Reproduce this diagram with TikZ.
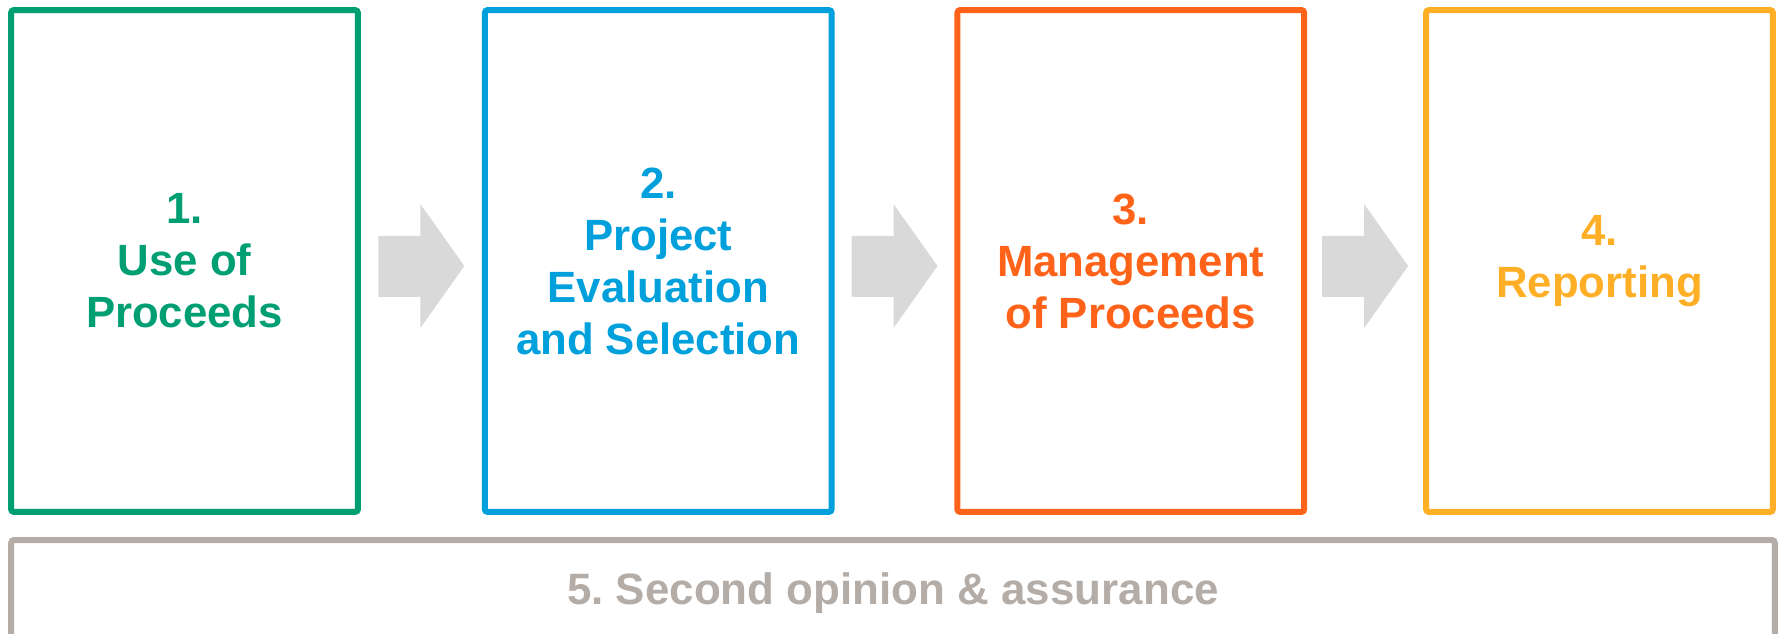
\documentclass[tikz,border=0pt]{standalone}
\usepackage{fontspec}
\setmainfont{Liberation Sans}
\usetikzlibrary{calc}

\definecolor{usegreen}{RGB}{0,158,115}
\definecolor{evalblue}{RGB}{0,160,220}
\definecolor{mgmtorange}{RGB}{255,99,25}
\definecolor{reportyellow}{RGB}{255,175,38}
\definecolor{assuregray}{RGB}{180,172,166}
\definecolor{flowgray}{RGB}{217,217,217}

\begin{document}
\begin{tikzpicture}[x=0.02cm, y=-0.02cm,
  stage/.style={draw, line width=0.12cm, rounded corners=0.06cm,
    minimum width=6.94cm, minimum height=10.04cm, align=center,
    font=\bfseries\fontsize{24.9}{29.6}\selectfont}]

% Page frame (the bottom box runs off the edge)
\clip (0,0) rectangle (1781,634);

% Process stages
\node[stage, draw=usegreen, text=usegreen] (use) at (184.5,261) {1.\\Use of\\Proceeds};
\node[stage, draw=evalblue, text=evalblue] (eval) at (658.25,261) {2.\\Project\\Evaluation\\and Selection};
\node[stage, draw=mgmtorange, text=mgmtorange] (manage) at (1130.75,261) {3.\\Management\\of Proceeds};
\node[stage, draw=reportyellow, text=reportyellow] (report) at (1599.5,261) {4.\\Reporting};

% Block arrows between the stages
\foreach \a/\b in {use/eval, eval/manage, manage/report} {
  \coordinate (tip) at ($(\a.east)!0.5!(\b.west) + (43,5)$);
  \fill[flowgray] (tip) -- ++(-44,-62) -- ++(0,32) -- ++(-42,0) -- ++(0,61)
    -- ++(42,0) -- ++(0,31) -- cycle;
}

% Assurance bar along the bottom
\node[stage, draw=assuregray, text=assuregray, minimum width=35.28cm,
  minimum height=1.96cm, text height=18pt, text depth=0pt,
  font=\bfseries\fontsize{25}{30}\selectfont] (assure) at (893,589)
  {5.\ Second opinion \& assurance};

\end{tikzpicture}
\end{document}
